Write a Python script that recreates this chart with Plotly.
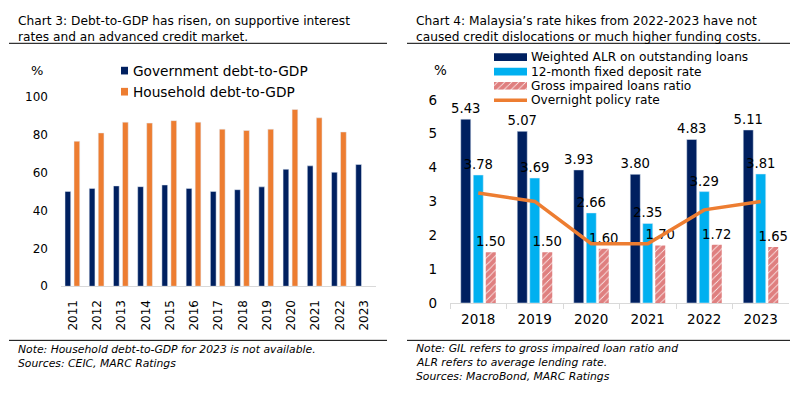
import plotly.graph_objects as go

# ---------------- data ----------------
years_l = ["2011", "2012", "2013", "2014", "2015", "2016", "2017", "2018", "2019", "2020", "2021", "2022", "2023"]
gov_debt = [50.1, 51.7, 53.0, 52.6, 53.5, 51.7, 50.1, 51.0, 52.5, 61.8, 63.6, 60.2, 64.3]
hh_debt = [76.6, 81.0, 86.7, 86.2, 87.5, 86.7, 83.0, 82.3, 83.0, 93.4, 89.0, 81.5, None]

years_r = ["2018", "2019", "2020", "2021", "2022", "2023"]
alr = [5.43, 5.07, 3.93, 3.80, 4.83, 5.11]
fd12 = [3.78, 3.69, 2.66, 2.35, 3.29, 3.81]
gil = [1.50, 1.50, 1.60, 1.70, 1.72, 1.65]
opr = [3.25, 3.00, 1.75, 1.75, 2.75, 3.00]

left_yticks = [0, 20, 40, 60, 80, 100]
right_yticks = [0, 1, 2, 3, 4, 5, 6]

NAVY = "#002060"
ORANGE = "#ED7D31"
LBLUE = "#00B0F0"
DRED = "#C00000"
GRID = "#D9D9D9"
FONT = "DejaVu Sans"

# page body keeps its default 8px margin, so the figure is drawn at (8, 8);
# size it so the page never overflows the 800x399 window
OFF = 8
W, H = 800 - 2 * OFF, 399 - 2 * OFF


def px(x):
    return (x - OFF) / W


def py(y):
    return 1 - (y - OFF) / H


fig = go.Figure()

# ---- left chart ----
fig.add_trace(go.Bar(x=years_l, y=gov_debt, marker_color=NAVY, width=0.236, offset=-0.335,
                     xaxis="x", yaxis="y", showlegend=False))
fig.add_trace(go.Bar(x=years_l, y=hh_debt, marker_color=ORANGE, width=0.236, offset=0.037,
                     xaxis="x", yaxis="y", showlegend=False))

# ---- right chart ----
lab_font = dict(family=FONT, size=13.2, color="black")
hatch = dict(shape="/", fgcolor=DRED, bgcolor="white", size=5, solidity=0.85)
fig.add_trace(go.Bar(x=years_r, y=alr, marker_color=NAVY, xaxis="x2", yaxis="y2",
                     text=alr, texttemplate="%{y:.2f}", textposition="outside",
                     constraintext="none", cliponaxis=False, textfont=lab_font, showlegend=False))
fig.add_trace(go.Bar(x=years_r, y=fd12, marker_color=LBLUE, xaxis="x2", yaxis="y2",
                     text=fd12, texttemplate="%{y:.2f}", textposition="outside",
                     constraintext="none", cliponaxis=False, textfont=lab_font, showlegend=False))
fig.add_trace(go.Bar(x=years_r, y=gil, marker=dict(color="white", line=dict(width=0), pattern=hatch),
                     xaxis="x2", yaxis="y2",
                     text=gil, texttemplate="%{y:.2f}", textposition="outside",
                     constraintext="none", cliponaxis=False, textfont=lab_font, showlegend=False))
fig.add_trace(go.Scatter(x=years_r, y=opr, mode="lines", line=dict(color=ORANGE, width=3.5),
                         xaxis="x2", yaxis="y2", showlegend=False))

# hatched legend swatch (own hidden axes)
fig.add_trace(go.Bar(x=[0], y=[1], width=1, xaxis="x3", yaxis="y3", showlegend=False,
                     hoverinfo="skip",
                     marker=dict(color="white", line=dict(width=0), pattern=hatch)))

tick_l = dict(family=FONT, size=12, color="black")
tick_r = dict(family=FONT, size=13.5, color="black")

fig.update_layout(
    width=W, height=H, autosize=False, margin=dict(l=0, r=0, t=0, b=0),
    paper_bgcolor="white", plot_bgcolor="white",
    showlegend=False, barmode="group", bargap=0.336, bargroupgap=0.2,
    xaxis=dict(domain=[px(61), px(376)], anchor="y", type="category", showline=True,
               linecolor=GRID, linewidth=1, ticks="", tickangle=-90, tickfont=tick_l,
               showgrid=False, ticklabelstandoff=8),
    yaxis=dict(domain=[py(290), py(92.5)], anchor="x", range=[0, 100], tickvals=left_yticks,
               showgrid=False, zeroline=False, showline=False, ticks="", tickfont=tick_l,
               ticklabelstandoff=12),
    xaxis2=dict(domain=[px(450), px(789)], anchor="y2", type="category", showline=True,
                linecolor=GRID, linewidth=1, ticks="outside", tickson="boundaries", ticklen=5,
                tickcolor=GRID, tickfont=tick_r, showgrid=False, ticklabelstandoff=4),
    yaxis2=dict(domain=[py(307.5), py(95.5)], anchor="x2", range=[0, 6], tickvals=right_yticks,
                showgrid=False, zeroline=False, showline=False, ticks="", tickfont=tick_r,
                ticklabelstandoff=12),
    xaxis3=dict(domain=[px(494), px(527)], anchor="y3", range=[-0.5, 0.5], visible=False),
    yaxis3=dict(domain=[py(85), py(77)], anchor="x3", range=[0, 1], visible=False),
)

shapes = []
annos = []

# rules under titles and above notes
for x0, x1 in [(9, 387), (407, 790)]:
    shapes.append(dict(type="line", xref="paper", yref="paper", x0=px(x0), x1=px(x1),
                       y0=py(36.5), y1=py(36.5), line=dict(color="black", width=1)))
    shapes.append(dict(type="line", xref="paper", yref="paper", x0=px(x0), x1=px(x1),
                       y0=py(346.5), y1=py(346.5), line=dict(color="black", width=1)))


def text(x, y, s, size, italic=False, anchor="left"):
    annos.append(dict(xref="paper", yref="paper", x=px(x), y=py(y), text=s, showarrow=False,
                      xanchor=anchor, yanchor="middle",
                      font=dict(family=FONT, size=size, color="black",
                                style="italic" if italic else "normal")))


# titles
text(16, 13, "Chart 3: Debt-to-GDP has risen, on supportive interest", 12.2)
text(16, 29.5, "rates and an advanced credit market.", 12.2)
text(414, 13, "Chart 4: Malaysia\u2019s rate hikes from 2022-2023 have not", 12.2)
text(414, 29.5, "caused credit dislocations or much higher funding costs.", 12.2)

# notes
text(16, 356, "Note: Household debt-to-GDP for 2023 is not available.", 10.8, italic=True)
text(16, 371, "Sources: CEIC, MARC Ratings", 10.8, italic=True)
text(414, 355, "Note: GIL refers to gross impaired loan ratio and", 10.8, italic=True)
text(414, 370, "ALR refers to average lending rate.", 10.8, italic=True)
text(414, 384.5, "Sources: MacroBond, MARC Ratings", 10.8, italic=True)

# % labels
text(45, 65, "%", 13, anchor="right")
text(449, 64, "%", 13.5, anchor="right")

# left legend
for yc, col, lab in [(65, NAVY, "Government debt-to-GDP"), (87, ORANGE, "Household debt-to-GDP")]:
    shapes.append(dict(type="rect", xref="paper", yref="paper", x0=px(121), x1=px(128),
                       y0=py(yc + 4), y1=py(yc - 4), fillcolor=col, line=dict(width=0)))
    text(131, yc, lab, 13.7)

# right legend
shapes.append(dict(type="rect", xref="paper", yref="paper", x0=px(494), x1=px(527),
                   y0=py(55), y1=py(47), fillcolor=NAVY, line=dict(width=0)))
shapes.append(dict(type="rect", xref="paper", yref="paper", x0=px(494), x1=px(527),
                   y0=py(70), y1=py(62), fillcolor=LBLUE, line=dict(width=0)))
shapes.append(dict(type="line", xref="paper", yref="paper", x0=px(494), x1=px(527),
                   y0=py(96), y1=py(96), line=dict(color=ORANGE, width=3.5)))
for yc, lab in [(51, "Weighted ALR on outstanding loans"), (66, "12-month fixed deposit rate"),
                (81, "Gross impaired loans ratio"), (96, "Overnight policy rate")]:
    text(529, yc, lab, 12.2)

fig.update_layout(shapes=shapes, annotations=annos)
fig.write_html("out.html")
